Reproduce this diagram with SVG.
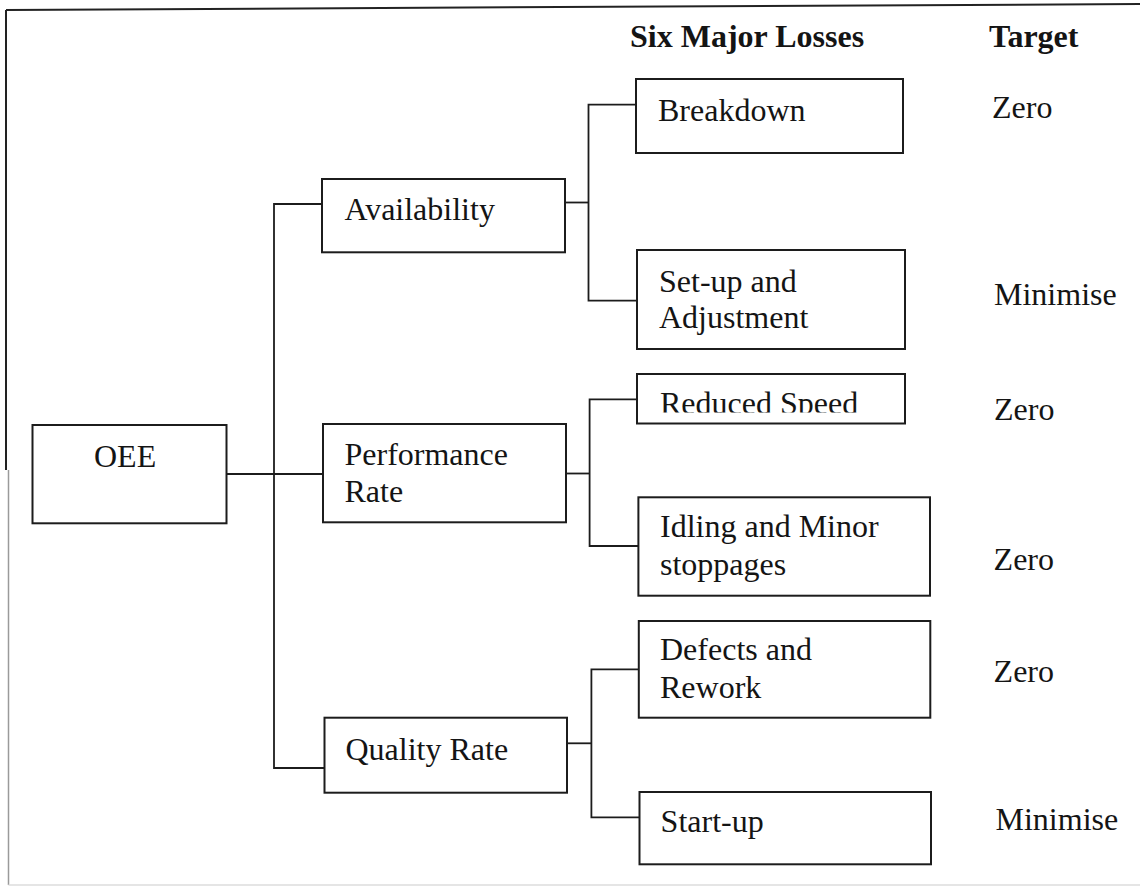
<svg xmlns="http://www.w3.org/2000/svg" width="1140" height="887" viewBox="0 0 1140 887">
<style>
.box{fill:#fff;stroke:#1c1c1c;stroke-width:2}
.t{font-family:"Liberation Serif","Times New Roman",serif;font-size:32px;fill:#141414}
.h{font-weight:bold}
.c{fill:none;stroke:#1c1c1c;stroke-width:1.8}
</style>
<defs>
<clipPath id="clipRS"><rect x="637" y="374" width="268" height="38.5"/></clipPath>
</defs>
<rect x="0" y="0" width="1140" height="887" fill="#fff"/>
<g id="frame">
<path d="M6,10 L1140,4" fill="none" stroke="#222" stroke-width="2"/>
<path d="M6,10 V470" fill="none" stroke="#222" stroke-width="2"/>
<path d="M8.5,470 V885" fill="none" stroke="#9a9a9a" stroke-width="1.5"/>
<path d="M8.5,885 H1140" fill="none" stroke="#dcdcdc" stroke-width="1.5"/>
</g>
<g id="connectors">
<path class="c" d="M226.5,474 H323"/>
<path class="c" d="M322,204 H274 V768 H324.5"/>
<path class="c" d="M565,202.5 H588.5"/>
<path class="c" d="M636,104.7 H588.5 V300.7 H637"/>
<path class="c" d="M566,473.5 H589.6"/>
<path class="c" d="M637,399.3 H589.6 V546 H638.4"/>
<path class="c" d="M567,743.3 H591.4"/>
<path class="c" d="M638.8,669.3 H591.4 V817.3 H639.5"/>
</g>
<g id="headers">
<text class="t h" x="630" y="46.7">Six Major Losses</text>
<text class="t h" x="989" y="46.7">Target</text>
</g>
<g id="oee"><rect class="box" x="32.5" y="425" width="194" height="98.3"/><text class="t" x="94" y="466.7">OEE</text></g>
<g id="availability"><rect class="box" x="322" y="179" width="243" height="73.3"/><text class="t" x="344.4" y="220">Availability</text></g>
<g id="performance"><rect class="box" x="323" y="424" width="243" height="98.3"/><text class="t" x="344.5" y="465">Performance</text><text class="t" x="344.5" y="502.3">Rate</text></g>
<g id="quality"><rect class="box" x="324.5" y="717.7" width="242.5" height="75"/><text class="t" x="345.5" y="760">Quality Rate</text></g>
<g id="breakdown"><rect class="box" x="636" y="79" width="267" height="74"/><text class="t" x="658" y="120.7">Breakdown</text></g>
<g id="setup"><rect class="box" x="637" y="250" width="268" height="99"/><text class="t" x="659" y="291.7">Set-up and</text><text class="t" x="659" y="328.3">Adjustment</text></g>
<g id="reduced"><rect class="box" x="637" y="374" width="268" height="49.5"/><text class="t" x="660" y="413.8" clip-path="url(#clipRS)">Reduced Speed</text></g>
<g id="idling"><rect class="box" x="638.4" y="497.3" width="291.6" height="98.4"/><text class="t" x="660" y="536.7">Idling and Minor</text><text class="t" x="660" y="575">stoppages</text></g>
<g id="defects"><rect class="box" x="638.8" y="621" width="291.5" height="96.7"/><text class="t" x="660" y="660">Defects and</text><text class="t" x="660" y="698.3">Rework</text></g>
<g id="startup"><rect class="box" x="639.5" y="792" width="291.5" height="72.3"/><text class="t" x="660.6" y="831.7">Start-up</text></g>
<g id="targets">
<text class="t" x="992" y="118.3">Zero</text>
<text class="t" x="994" y="305">Minimise</text>
<text class="t" x="994" y="420">Zero</text>
<text class="t" x="993.6" y="570">Zero</text>
<text class="t" x="993.6" y="681.7">Zero</text>
<text class="t" x="995.5" y="830">Minimise</text>
</g>
</svg>
